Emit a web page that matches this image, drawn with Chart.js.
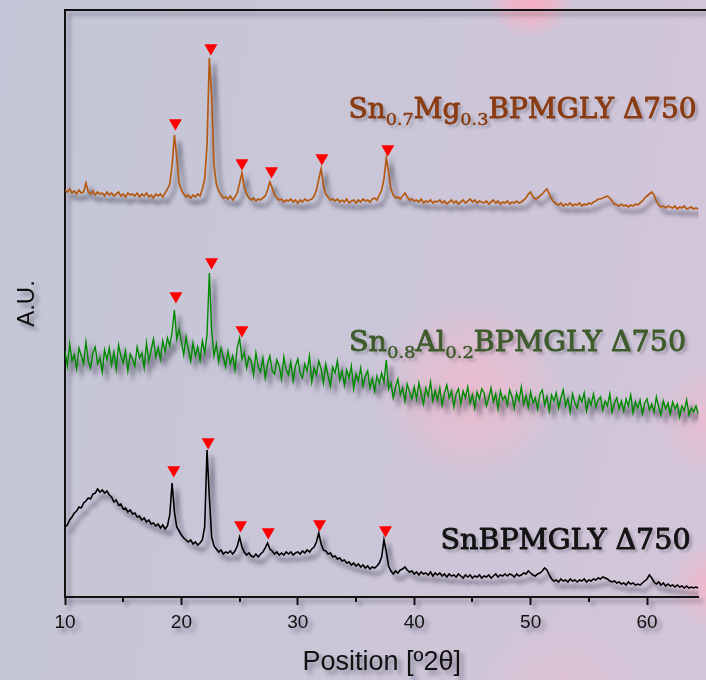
<!DOCTYPE html>
<html>
<head>
<meta charset="utf-8">
<title>XRD patterns</title>
<script src="https://cdn.jsdelivr.net/npm/chart.js@4.4.1/dist/chart.umd.min.js"></script>
<style>
  html, body { margin: 0; padding: 0; }
  #wrap {
    width: 706px;
    height: 680px;
    position: relative;
    overflow: hidden;
    background:
      radial-gradient(circle at 530px -4px, rgba(255,172,192,0.9) 0px, rgba(255,172,192,0.55) 24px, rgba(255,172,192,0) 44px),
      radial-gradient(circle at 470px 390px, rgba(255,180,200,0.55) 0px, rgba(255,180,200,0.35) 50px, rgba(255,180,200,0) 95px),
      radial-gradient(circle at 712px 420px, rgba(255,180,200,0.5) 0px, rgba(255,180,200,0) 60px),
      radial-gradient(circle at 712px 585px, rgba(255,175,195,0.7) 0px, rgba(255,175,195,0) 45px),
      radial-gradient(circle at 560px 700px, rgba(255,185,205,0.35) 0px, rgba(255,185,205,0) 90px),
      linear-gradient(100deg, #c3c6d6 0%, #cac6d8 50%, #d4c5d9 100%);
  }
</style>
</head>
<body>
<div id="wrap"><canvas id="xrd" width="706" height="680"></canvas></div>
<script>
// scan: 2θ from 10° in 0.2° steps
const SCAN_START = 10;
const SCAN_STEP = 0.2;

// intensities (a.u., patterns already offset for stacking)
const snMg = [
  407, 405, 408, 404, 406, 403, 407, 404, 405, 414,
  405, 403, 406, 402, 405, 403, 404, 401, 405, 402,
  404, 401, 403, 405, 401, 403, 400, 404, 402, 403,
  401, 404, 400, 403, 401, 404, 400, 402, 399, 403,
  401, 403, 400, 404, 408, 413, 432, 462, 440, 414,
  407, 403, 400, 402, 399, 402, 400, 403, 401, 408,
  418, 452, 539, 500, 432, 413, 406, 402, 399, 400,
  398, 401, 397, 400, 404, 414, 424, 410, 403, 399,
  397, 399, 396, 398, 397, 399, 401, 407, 415, 409,
  402, 399, 397, 398, 395, 397, 396, 398, 395, 397,
  394, 397, 395, 398, 396, 397, 398, 401, 407, 418,
  428, 412, 403, 400, 397, 398, 396, 398, 395, 397,
  395, 398, 394, 396, 397, 394, 397, 395, 398, 396,
  397, 395, 398, 399, 397, 402, 407, 418, 439, 425,
  408, 402, 399, 400, 398, 401, 404, 400, 397, 398,
  396, 397, 395, 398, 394, 396, 395, 397, 394, 396,
  395, 397, 394, 396, 393, 395, 397, 394, 396, 393,
  395, 397, 394, 396, 398, 395, 397, 394, 396, 395,
  394, 396, 393, 395, 397, 394, 396, 393, 395, 394,
  396, 393, 395, 394, 396, 394, 395, 397, 399, 403,
  405, 400, 398, 399, 401, 403, 406, 408, 403, 398,
  395, 393, 392, 394, 391, 393, 392, 394, 391, 393,
  392, 394, 391, 393, 392, 394, 393, 395, 396, 398,
  398, 399, 400, 401, 399, 396, 393, 392, 391, 393,
  391, 392, 390, 392, 391, 393, 392, 394, 396, 399,
  401, 403, 405, 402, 396, 392, 390, 391, 389, 391,
  390, 389, 391, 388, 390, 389, 391, 388, 389, 390,
  388, 389, 388
];

const snAl = [
  246, 231, 253, 236, 242, 228, 249, 241, 233, 255,
  236, 229, 244, 250, 233, 239, 225, 247, 237, 249,
  232, 245, 228, 252, 241, 234, 246, 226, 243, 238,
  231, 250, 239, 244, 229, 254, 236, 247, 258, 240,
  249, 238, 256, 245, 259, 251, 265, 287, 258, 268,
  255, 242, 260, 247, 236, 254, 241, 250, 237, 256,
  244, 262, 324, 266, 241, 253, 235, 249, 240, 230,
  246, 233, 241, 227, 250, 259, 238, 245, 229, 240,
  236, 222, 244, 230, 225, 239, 219, 233, 241, 226,
  223, 237, 231, 218, 240, 227, 222, 235, 216, 231,
  238, 224, 219, 233, 226, 241, 215, 229, 222, 236,
  228, 214, 233, 221, 211, 230, 224, 236, 217, 226,
  212, 227, 219, 231, 208, 223, 216, 229, 211, 221,
  226, 209, 218, 206, 221, 213, 224, 215, 237, 208,
  214, 199, 210, 218, 202, 209, 196, 213, 205, 198,
  210, 198, 214, 203, 193, 209, 201, 215, 196, 206,
  197, 209, 192, 204, 212, 199, 206, 190, 203, 208,
  193, 206, 199, 210, 194, 202, 189, 205, 198, 208,
  204, 191, 199, 209, 195, 203, 188, 206, 197, 201,
  192, 207, 200, 189, 204, 196, 210, 193, 201, 190,
  205, 194, 199, 188, 203, 207, 192, 200, 186, 202,
  196, 204, 189, 199, 207, 191, 198, 185, 203, 194,
  189, 201, 195, 204, 186, 198, 192, 203, 190, 197,
  200, 187, 196, 191, 203, 185, 194, 199, 188, 196,
  186, 198, 191, 202, 184, 195, 189, 197, 183, 194,
  198, 187, 193, 185, 200, 190, 182, 196, 188, 194,
  183, 195, 188, 193, 180, 191, 186, 197, 182, 189,
  185, 191, 183
];

const sn = [
  70, 72, 77, 80, 84, 86, 90, 89, 94, 96,
  99, 98, 103, 104, 108, 105, 107, 104, 106, 102,
  100, 95, 97, 92, 93, 88, 89, 85, 87, 83,
  84, 80, 81, 77, 79, 75, 77, 73, 74, 71,
  73, 69, 72, 68, 71, 82, 114, 85, 70, 66,
  62, 59, 57, 55, 57, 53, 55, 52, 54, 57,
  70, 147, 100, 60, 51, 48, 45, 47, 43, 45,
  44, 46, 43, 46, 51, 60, 50, 45, 42, 44,
  41, 40, 43, 40, 43, 45, 49, 54, 48, 46,
  43, 45, 42, 44, 42, 45, 43, 45, 42, 44,
  45, 43, 46, 44, 47, 45, 48, 50, 55, 64,
  53, 47, 46, 43, 44, 40, 41, 38, 39, 36,
  37, 34, 35, 32, 34, 31, 33, 30, 32, 29,
  31, 28, 30, 29, 31, 34, 40, 57, 45, 31,
  26, 23, 26, 24, 27, 28, 30, 27, 25, 26,
  23, 25, 22, 25, 23, 24, 22, 25, 21, 24,
  22, 24, 21, 23, 20, 23, 21, 22, 20, 23,
  21, 19, 22, 20, 22, 19, 21, 20, 22, 19,
  21, 20, 22, 19, 21, 23, 20, 22, 21, 23,
  21, 23, 22, 20, 23, 21, 22, 24, 23, 26,
  24, 22, 21, 23, 24, 26, 29, 27, 22, 18,
  16, 17, 15, 18, 16, 17, 15, 18, 16, 17,
  15, 17, 16, 18, 15, 17, 16, 18, 17, 19,
  18, 20, 19, 18, 16, 15, 16, 14, 15, 13,
  14, 12, 15, 13, 14, 12, 13, 12, 14, 16,
  18, 22, 19, 15, 13, 15, 12, 14, 11, 13,
  11, 12, 10, 12, 10, 11, 9, 11, 9, 10,
  9, 10, 9
];

// indexed reflections (▼): 2θ and marker height
const snMgPeaks = [19.48, 22.53, 25.2, 27.74, 32.07, 37.73];
const snMgMarks = [474, 549, 434, 426, 439, 448];
const snAlPeaks = [19.53, 22.59, 25.2];
const snAlMarks = [301, 335, 267];
const snPeaks = [19.34, 22.3, 25.08, 27.46, 31.87, 37.53];
const snMarks = [127, 155, 72, 65, 73, 67];

const minorTicks = [15, 25, 35, 45, 55];

const X_MIN = 10;
const X_MAX = 64.42;

const toPoints = (arr) =>
  arr.map((v, i) => ({ x: SCAN_START + i * SCAN_STEP, y: v }));
const toMarks = (xs, ys) => xs.map((x, i) => ({ x: x, y: ys[i] }));

// sample names, drawn in plot coordinates
const sampleLabels = [
  {
    parts: [["Sn"], ["0.7", true], ["Mg"], ["0.3", true], ["BPMGLY \u0394750"]],
    x: 34.36, y: 479, width: 348, color: "#8a3c12",
  },
  {
    parts: [["Sn"], ["0.8", true], ["Al"], ["0.2", true], ["BPMGLY \u0394750"]],
    x: 34.4, y: 246, width: 337, color: "#3e5c2b",
  },
  {
    parts: [["SnBPMGLY \u0394750"]],
    x: 42.26, y: 48, width: 250, color: "#141414",
  },
];

const LABEL_FONT = "27px 'DejaVu Serif'";
const SUB_FONT = "17px 'DejaVu Serif'";
const SANS = "'Liberation Sans', Arial, sans-serif";

const shadowPlugin = {
  id: "dropShadow",
  beforeDraw(chart) {
    const ctx = chart.ctx;
    ctx.save();
    ctx.shadowColor = "rgba(40, 40, 60, 0.45)";
    ctx.shadowBlur = 4;
    ctx.shadowOffsetX = 4;
    ctx.shadowOffsetY = 4;
  },
  beforeDatasetDraw(chart, args) {
    const ctx = chart.ctx;
    ctx.save();
    if (chart.data.datasets[args.index].isMarker) {
      ctx.shadowColor = "rgba(0, 0, 0, 0)";
    } else {
      ctx.shadowColor = "rgba(40, 40, 60, 0.7)";
      ctx.shadowBlur = 4;
      ctx.shadowOffsetX = 5;
      ctx.shadowOffsetY = 6;
    }
  },
  afterDatasetDraw(chart) {
    chart.ctx.restore();
  },
  afterDraw(chart) {
    const ctx = chart.ctx;
    const area = chart.chartArea;
    const xScale = chart.scales.x;
    const yScale = chart.scales.y;

    // top frame line
    ctx.strokeStyle = "#111";
    ctx.lineWidth = 2;
    ctx.beginPath();
    ctx.moveTo(area.left, area.top);
    ctx.lineTo(chart.width, area.top);
    ctx.stroke();

    // minor ticks
    ctx.beginPath();
    minorTicks.forEach((v) => {
      const px = Math.round(xScale.getPixelForValue(v));
      ctx.moveTo(px, area.bottom);
      ctx.lineTo(px, area.bottom + 5);
    });
    ctx.stroke();

    // sample names with subscripts, slightly emboldened with a thin stroke
    sampleLabels.forEach((lab) => {
      let natural = 0;
      lab.parts.forEach(([txt, sub]) => {
        ctx.font = sub ? SUB_FONT : LABEL_FONT;
        natural += ctx.measureText(txt).width;
      });
      const x0 = xScale.getPixelForValue(lab.x);
      const y0 = yScale.getPixelForValue(lab.y);
      ctx.save();
      ctx.translate(x0, y0);
      ctx.scale(lab.width / natural, 1);
      ctx.fillStyle = lab.color;
      ctx.strokeStyle = lab.color;
      ctx.lineJoin = "round";
      ctx.textBaseline = "alphabetic";
      ctx.textAlign = "left";
      let cx = 0;
      lab.parts.forEach(([txt, sub]) => {
        ctx.font = sub ? SUB_FONT : LABEL_FONT;
        const dy = sub ? 7 : 0;
        ctx.shadowColor = "rgba(40, 40, 60, 0.35)";
        ctx.shadowBlur = 3;
        ctx.shadowOffsetX = 3;
        ctx.shadowOffsetY = 3;
        ctx.fillText(txt, cx, dy);
        ctx.shadowColor = "rgba(0, 0, 0, 0)";
        ctx.lineWidth = sub ? 0.5 : 0.9;
        ctx.strokeText(txt, cx, dy);
        cx += ctx.measureText(txt).width;
      });
      ctx.restore();
    });

    ctx.restore();
  },
};

const lineStyle = (color, width) => ({
  borderColor: color,
  backgroundColor: color,
  borderWidth: width,
  pointRadius: 0,
  tension: 0,
  fill: false,
  order: 1,
});

const markerStyle = {
  isMarker: true,
  showLine: false,
  pointStyle: "triangle",
  rotation: 180,
  pointRadius: 7.5,
  pointBackgroundColor: "#ff0000",
  pointBorderWidth: 0,
  borderColor: "#ff0000",
  order: 0,
};

function drawChart() {
  new Chart(document.getElementById("xrd"), {
    type: "line",
    data: {
      datasets: [
        { label: "Sn0.7Mg0.3BPMGLY", data: toPoints(snMg), ...lineStyle("#b55a12", 1.7) },
        { label: "Sn0.8Al0.2BPMGLY", data: toPoints(snAl), ...lineStyle("#008a00", 1.4) },
        { label: "SnBPMGLY", data: toPoints(sn), ...lineStyle("#000000", 1.6) },
        { label: "m1", data: toMarks(snMgPeaks, snMgMarks), ...markerStyle },
        { label: "m2", data: toMarks(snAlPeaks, snAlMarks), ...markerStyle },
        { label: "m3", data: toMarks(snPeaks, snMarks), ...markerStyle },
      ],
    },
    options: {
      responsive: false,
      animation: false,
      devicePixelRatio: 1,
      layout: { padding: { top: 10, right: 0, bottom: 0, left: 0 } },
      plugins: {
        legend: { display: false },
        tooltip: { enabled: false },
      },
      scales: {
        x: {
          type: "linear",
          position: "bottom",
          min: X_MIN,
          max: X_MAX,
          afterFit: (scale) => { scale.height = 83; },
          border: { display: true, color: "#111", width: 2 },
          grid: {
            display: true,
            drawOnChartArea: false,
            drawTicks: true,
            tickLength: 8,
            tickWidth: 2,
            tickColor: "#111",
            color: "#111",
          },
          ticks: {
            stepSize: 10,
            includeBounds: false,
            maxRotation: 0,
            padding: 6,
            color: "#111",
            font: { family: SANS, size: 19 },
          },
          title: {
            display: true,
            text: "Position [\u00ba2\u03b8]",
            color: "#111",
            font: { family: SANS, size: 27 },
            padding: { top: 0, bottom: 1 },
          },
        },
        y: {
          type: "linear",
          position: "left",
          min: 0,
          max: 587,
          afterFit: (scale) => { scale.width = 65; },
          border: { display: true, color: "#111", width: 2 },
          grid: { display: false },
          ticks: { display: false },
          title: {
            display: true,
            text: "A.U.",
            color: "#111",
            font: { family: SANS, size: 24 },
            padding: { top: 13, bottom: 0 },
          },
        },
      },
    },
    plugins: [shadowPlugin],
  });
}

Promise.all([document.fonts.load(LABEL_FONT), document.fonts.load(SUB_FONT)])
  .catch(() => null)
  .then(drawChart);
</script>
</body>
</html>
